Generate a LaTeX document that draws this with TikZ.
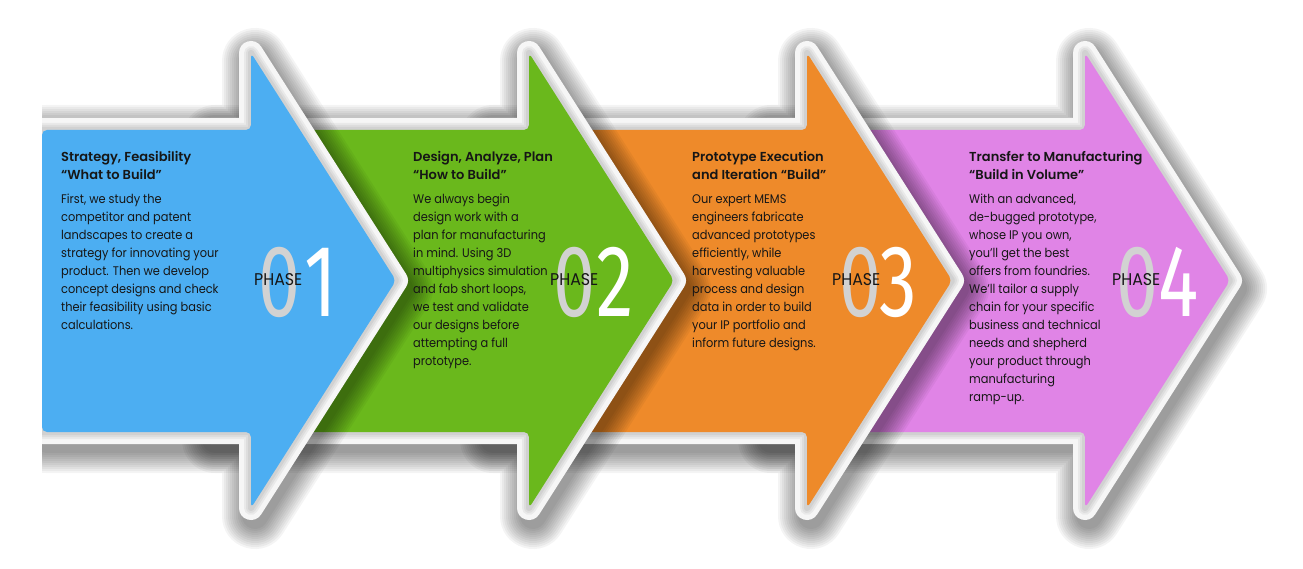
\documentclass[tikz,border=0pt]{standalone}
\usepackage{fontspec}
\setmainfont{Poppins}[FakeStretch=0.91]
\newfontfamily\headfont{Poppins}[UprightFont={* SemiBold}]
\newfontfamily\phasefont{Poppins}
\newfontfamily\numfont{Fira Sans}
\usetikzlibrary{calc}

\definecolor{phaseone}{RGB}{76,174,242}
\definecolor{phasetwo}{RGB}{106,184,28}
\definecolor{phasethree}{RGB}{238,138,42}
\definecolor{phasefour}{RGB}{224,132,230}
\definecolor{rim}{HTML}{F6F6F6}
\definecolor{ink}{HTML}{161616}
\definecolor{zero}{HTML}{D2D2D2}

% outline of one arrow: left end of the body, back of the head
\newcommand{\arrowpath}[2]{(#1,130) -- (#2,130) -- (#2,53) -- (#2+145,280.5) -- (#2,508) -- (#2,432) -- (#1,432) -- cycle}
\newcommand{\head}[1]{{\headfont\fontsize{13}{18}\selectfont #1}}

\tikzset{
    shadowline/.style={black, draw opacity=0.045, line join=round, shift={(4,8)}},
    rimline/.style={draw=rim, line width=24pt, line join=round},
    rimshade/.style={draw=black, draw opacity=0.05, line join=round},
    desc/.style={anchor=base west, inner sep=0pt, text=ink, font=\fontsize{12.5}{18}\selectfont},
    phase/.style={anchor=base west, inner sep=0pt, text=ink, font=\phasefont\fontsize{17}{17}\selectfont, xscale=0.93},
    digit/.style={anchor=base west, inner sep=0pt, font=\numfont\fontsize{102}{102}\selectfont, xscale=0.74}
}

\begin{document}
\begin{tikzpicture}[x=1pt, y=-1pt]
	\useasboundingbox (0,0) rectangle (1303,569);
	\clip (42,0) rectangle (1303,569);
	
	% arrows, back to front
	\foreach \xl/\xb/\col in {767/1085/phasefour, 489/807/phasethree, 211/529/phasetwo, 42/251/phaseone}{
		\foreach \w in {26,30,...,66}
			\draw[shadowline, line width=\w] \arrowpath{\xl}{\xb};
		\draw[rimline] \arrowpath{\xl}{\xb};
		\foreach \w in {6,10,14}
			\draw[rimshade, line width=\w] \arrowpath{\xl}{\xb};
		\fill[\col, rounded corners=5pt] \arrowpath{\xl}{\xb};
	}
	
	% phase 01
	\node[desc] (txtA) at (61,162) {\begin{tabular}[t]{@{}l@{}}
		\head{Strategy, Feasibility}\\ \head{“What to Build”}\\[6pt]
		First, we study the\\ competitor and patent\\ landscapes to create a\\ strategy for innovating your\\
		product. Then we develop\\ concept designs and check\\ their feasibility using basic\\ calculations.
	\end{tabular}};
	\node[digit, text=zero] (zeroA) at (258,316) {0};
	\node[digit, text=white] (numA) at (304,316) {1};
	\node[phase] (phA) at (254,286) {PHASE};
	
	% phase 02
	\node[desc] (txtB) at (413,162) {\begin{tabular}[t]{@{}l@{}}
		\head{Design, Analyze, Plan}\\ \head{“How to Build”}\\[6pt]
		We always begin\\ design work with a\\ plan for manufacturing\\ in mind. Using 3D\\
		multiphysics simulation\\ and fab short loops,\\ we test and validate\\ our designs before\\
		attempting a full\\ prototype.
	\end{tabular}};
	\node[digit, text=zero] (zeroB) at (553,316) {0};
	\node[digit, text=white] (numB) at (596,316) {2};
	\node[phase] (phB) at (550,286) {PHASE};
	
	% phase 03
	\node[desc] (txtC) at (692,162) {\begin{tabular}[t]{@{}l@{}}
		\head{Prototype Execution}\\ \head{and Iteration “Build”}\\[6pt]
		Our expert MEMS\\ engineers fabricate\\ advanced prototypes\\ efficiently, while\\
		harvesting valuable\\ process and design\\ data in order to build\\ your IP portfolio and\\
		inform future designs.
	\end{tabular}};
	\node[digit, text=zero] (zeroC) at (839,316) {0};
	\node[digit, text=white] (numC) at (879,316) {3};
	\node[phase] (phC) at (832,286) {PHASE};
	
	% phase 04
	\node[desc] (txtD) at (969,162) {\begin{tabular}[t]{@{}l@{}}
		\head{Transfer to Manufacturing}\\ \head{“Build in Volume”}\\[6pt]
		With an advanced,\\ de-bugged prototype,\\ whose IP you own,\\ you’ll get the best\\
		offers from foundries.\\ We’ll tailor a supply\\ chain for your specific\\ business and technical\\
		needs and shepherd\\ your product through\\ manufacturing\\ ramp-up.
	\end{tabular}};
	\node[digit, text=zero] (zeroD) at (1116,316) {0};
	\node[digit, text=white] (numD) at (1158,316) {4};
	\node[phase] (phD) at (1112,286) {PHASE};
\end{tikzpicture}
\end{document}
